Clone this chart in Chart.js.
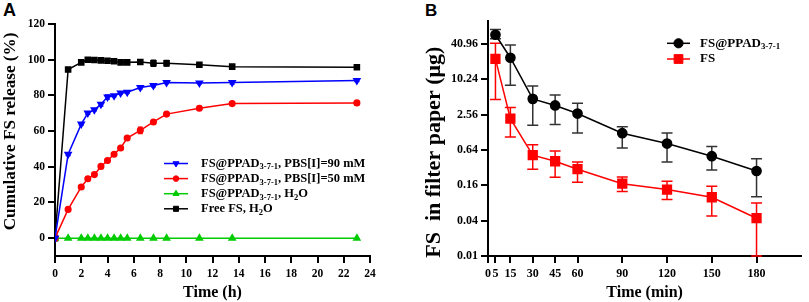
<!DOCTYPE html>
<html>
<head>
<meta charset="utf-8">
<script src="https://cdn.jsdelivr.net/npm/chart.js@4.4.0/dist/chart.umd.min.js"></script>
<style>
body{margin:0;width:809px;height:302px;background:#fff;position:relative;overflow:hidden}
#wa{position:absolute;left:0;top:0;width:380px;height:302px}
#wb{position:absolute;left:410px;top:0;width:399px;height:302px}
.lab{position:absolute;font-family:'Liberation Sans',Arial,sans-serif;font-weight:bold;font-size:18px;line-height:21px}
</style>
</head>
<body>
<div class="lab" style="left:3px;top:0px">A</div>
<div class="lab" style="left:425px;top:0px;font-size:17px">B</div>
<div id="wa"><canvas id="chartA"></canvas></div>
<div id="wb"><canvas id="chartB"></canvas></div>
<script>
// ---- panel A: cumulative release ----
const timeA = [0,1,2,2.5,3,3.5,4,4.5,5,5.5,6.5,7.5,8.5,11,13.5,23];
const pbs90 = [0,47,63.9,70.1,71.9,75,79.1,79.8,81.3,81.8,84.4,85.5,87.2,87,87.2,88.3];
const pbs90Sd = [0,0.8,0.6,0.8,0.6,1.0,1.2,0.6,0.6,0.7,0.8,0.7,0.6,0.5,0.9,0.6];
const pbs50 = [0,16.1,28.7,33.3,35.6,40.2,43.5,47,50.5,56.1,60.4,65.1,69.5,72.8,75.4,75.8];
const pbs50Sd = [0,0.6,0.7,0.7,0.6,0.6,0.6,0.5,0.8,0.8,1.8,0.7,0.6,1.0,0.9,0.6];
const water = [0,0,0,0,0,0,0,0,0,0,0,0,0,0,0,0];
const waterSd = [0,0,0,0,0,0,0,0,0,0,0,0,0,0,0,0];
const freeFS = [0,94.5,98.5,100,99.8,99.6,99.4,99.1,98.5,98.5,98.7,98.0,98.0,97.2,96.1,95.8];
const freeFSSd = [0,0.5,0.6,0.5,0.5,0.8,0.5,0.5,0.9,0.8,1.0,1.8,1.6,0.6,0.7,1.3];
const yTicksA = [0,20,40,60,80,100,120];

// ---- panel B: FS in filter paper ----
const timeB = [5,15,30,45,60,90,120,150,180];
const ppad = [58.3,23.7,4.73,3.65,2.66,1.23,0.82,0.50,0.28];
const ppadHi = [72,39,7.8,5.5,4.0,1.58,1.24,0.73,0.45];
const ppadLo = [50,8.1,1.68,1.73,1.24,0.69,0.40,0.29,0.102];
const fs = [22.7,2.18,0.52,0.41,0.30,0.17,0.135,0.10,0.044];
const fsHi = [42,3.37,0.78,0.61,0.40,0.221,0.187,0.154,0.08];
const fsLo = [4.6,1.06,0.30,0.22,0.18,0.125,0.092,0.048,0.01];
const xTicksB = [0,5,15,30,45,60,90,120,150,180];
const yTicksB = [0.01,0.04,0.16,0.64,2.56,10.24,40.96];
const yLabelsB = ['0.01','0.04','0.16','0.64','2.56','10.24','40.96'];

const serif = "'Liberation Serif','Times New Roman',serif";
const tickFont = {family: serif, weight: 'bold', size: 11.5};
const titleFont = {family: serif, weight: 'bold', size: 16};
const nb = n => '\u00a0'.repeat(n);

const pts = (xs, ys) => xs.map((x, i) => ({x: x, y: ys[i]}));

// error bars, drawn under the markers
const errorBars = {
  id: 'errorBars',
  beforeDatasetsDraw(chart, args, opts) {
    const ctx = chart.ctx;
    const xs = chart.scales.x, ys = chart.scales.y;
    chart.data.datasets.forEach(ds => {
      if (!ds.errHi) return;
      ctx.save();
      ctx.strokeStyle = ds.errColor || ds.borderColor;
      ctx.lineWidth = opts.width;
      ds.data.forEach((p, j) => {
        const x = xs.getPixelForValue(p.x);
        const y1 = ys.getPixelForValue(ds.errHi[j]);
        const y2 = ys.getPixelForValue(ds.errLo[j]);
        if (Math.abs(y2 - y1) < 1) return;
        ctx.beginPath();
        ctx.moveTo(x, y1); ctx.lineTo(x, y2);
        ctx.moveTo(x - opts.cap, y1); ctx.lineTo(x + opts.cap, y1);
        ctx.moveTo(x - opts.cap, y2); ctx.lineTo(x + opts.cap, y2);
        ctx.stroke();
      });
      ctx.restore();
    });
  }
};

// legend with real subscripts, {..} marks a subscript part
const subLegend = {
  id: 'subLegend',
  afterDraw(chart, args, opts) {
    const ctx = chart.ctx;
    chart.data.datasets.forEach((ds, i) => {
      const y = opts.y + i * opts.gap;
      ctx.save();
      ctx.strokeStyle = ds.borderColor;
      ctx.fillStyle = ds.backgroundColor;
      ctx.lineWidth = ds.borderWidth;
      ctx.beginPath();
      ctx.moveTo(opts.x, y); ctx.lineTo(opts.x + opts.len, y);
      ctx.stroke();
      ctx.lineWidth = 1;
      Chart.helpers.drawPoint(ctx, {pointStyle: ds.pointStyle, radius: ds.pointRadius, rotation: ds.pointRotation || 0, borderWidth: 1}, opts.x + opts.len / 2, y);
      ctx.fillStyle = '#000';
      ctx.textBaseline = 'middle';
      let tx = opts.x + opts.len + opts.pad;
      ds.label.split(/(\{[^}]*\})/).forEach(part => {
        if (!part) return;
        let sub = part[0] === '{';
        let txt = sub ? part.slice(1, -1) : part;
        ctx.font = 'bold ' + (sub ? opts.size * 0.68 : opts.size) + 'px ' + serif;
        ctx.fillText(txt, tx, sub ? y + opts.size * 0.3 : y);
        tx += ctx.measureText(txt).width;
      });
      ctx.restore();
    });
  }
};

const axisGrid = {display: true, drawOnChartArea: false, color: '#000', lineWidth: 2, tickLength: 7};
const axisBorder = {display: true, color: '#000', width: 2};

new Chart(document.getElementById('chartA'), {
  type: 'line',
  data: {
    datasets: [
      {label: 'FS@PPAD{3-7-1}, PBS[I]=90 mM', data: pts(timeA, pbs90), borderColor: '#0000ff', backgroundColor: '#0000ff',
       pointStyle: 'triangle', pointRotation: 180, pointRadius: 3.5, borderWidth: 1.5,
       errHi: pbs90.map((v, i) => v + pbs90Sd[i]), errLo: pbs90.map((v, i) => v - pbs90Sd[i])},
      {label: 'FS@PPAD{3-7-1}, PBS[I]=50 mM', data: pts(timeA, pbs50), borderColor: '#ff0000', backgroundColor: '#ff0000',
       pointStyle: 'circle', pointRadius: 2.8, borderWidth: 1.5,
       errHi: pbs50.map((v, i) => v + pbs50Sd[i]), errLo: pbs50.map((v, i) => v - pbs50Sd[i])},
      {label: 'FS@PPAD{3-7-1}, H{2}O', data: pts(timeA, water), borderColor: '#00cc00', backgroundColor: '#00cc00',
       pointStyle: 'triangle', pointRadius: 3.5, borderWidth: 1.5,
       errHi: water.map((v, i) => v + waterSd[i]), errLo: water.map((v, i) => v - waterSd[i])},
      {label: 'Free FS, H{2}O', data: pts(timeA, freeFS), borderColor: '#000', backgroundColor: '#000',
       pointStyle: 'rect', pointRadius: 3.6, borderWidth: 1.5,
       errHi: freeFS.map((v, i) => v + freeFSSd[i]), errLo: freeFS.map((v, i) => v - freeFSSd[i])}
    ]
  },
  options: {
    animation: false, responsive: true, maintainAspectRatio: false,
    layout: {padding: {top: 24, right: 10, left: 0, bottom: 0}},
    plugins: {
      legend: {display: false}, tooltip: {enabled: false},
      errorBars: {width: 1.2, cap: 2.5},
      subLegend: {x: 164, y: 163.5, gap: 15.1, len: 24, pad: 13, size: 12.5}
    },
    scales: {
      x: {type: 'linear', min: 0, max: 24,
          ticks: {stepSize: 2, font: tickFont, color: '#000', padding: 4, maxRotation: 0, autoSkip: false},
          grid: axisGrid, border: axisBorder,
          title: {display: true, text: 'Time (h)', font: titleFont, color: '#000', padding: {top: 0, bottom: 0}},
          afterFit: s => { s.height = 46; }},
      y: {type: 'linear', min: -10, max: 120,
          afterBuildTicks: s => { s.ticks = yTicksA.map(v => ({value: v})); },
          ticks: {font: tickFont, color: '#000', padding: 3},
          grid: axisGrid, border: axisBorder,
          title: {display: true, text: nb(4) + 'Cumulative FS release (%)', font: {family: serif, weight: 'bold', size: 17.2}, color: '#000', padding: {top: 0, bottom: 0}},
          afterFit: s => { s.width = 55; }}
    }
  },
  plugins: [errorBars, subLegend]
});

new Chart(document.getElementById('chartB'), {
  type: 'line',
  data: {
    datasets: [
      {label: 'FS@PPAD{3-7-1}', data: pts(timeB, ppad), borderColor: '#000', backgroundColor: '#000', errColor: '#333',
       pointStyle: 'circle', pointRadius: 4.6, borderWidth: 1.5, errHi: ppadHi, errLo: ppadLo},
      {label: 'FS', data: pts(timeB, fs), borderColor: '#ff0000', backgroundColor: '#ff0000',
       pointStyle: 'rect', pointRadius: 6.2, borderWidth: 1.5, errHi: fsHi, errLo: fsLo}
    ]
  },
  options: {
    animation: false, responsive: true, maintainAspectRatio: false,
    layout: {padding: {top: 21, right: 2, left: 0, bottom: 0}},
    plugins: {
      legend: {display: false}, tooltip: {enabled: false},
      errorBars: {width: 1.5, cap: 5.5},
      subLegend: {x: 257, y: 43.3, gap: 15.7, len: 23, pad: 10, size: 13}
    },
    scales: {
      x: {type: 'linear', min: 0, max: 210,
          afterBuildTicks: s => { s.ticks = xTicksB.map(v => ({value: v})); },
          ticks: {font: {family: serif, weight: 'bold', size: 12}, color: '#000', padding: 4, maxRotation: 0, autoSkip: false},
          grid: axisGrid, border: axisBorder,
          title: {display: true, text: 'Time (min)', font: titleFont, color: '#000', padding: {top: 3, bottom: 0}},
          afterFit: s => { s.height = 46; }},
      y: {type: 'logarithmic', min: 0.01, max: 100,
          afterBuildTicks: s => { s.ticks = yTicksB.map(v => ({value: v})); },
          ticks: {font: {family: serif, weight: 'bold', size: 12}, color: '#000', padding: 3, callback: (v, i) => yLabelsB[i]},
          grid: axisGrid, border: axisBorder,
          title: {display: true, text: 'FS  in filter paper (μg)' + nb(5), font: {family: serif, weight: 'bold', size: 22}, color: '#000', padding: {top: 11, bottom: 0}},
          afterFit: s => { s.width = 78; }}
    }
  },
  plugins: [errorBars, subLegend]
});
</script>
</body>
</html>
